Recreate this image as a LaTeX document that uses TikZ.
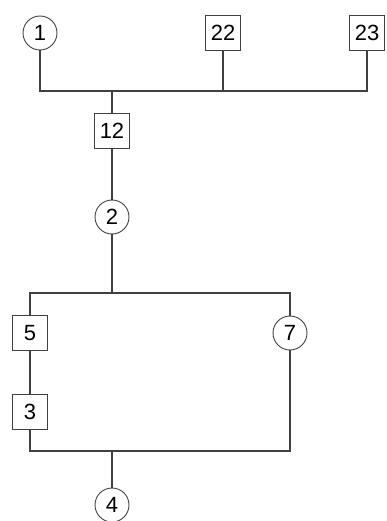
\documentclass[tikz,border=0pt]{standalone}
\usepackage{fontspec}
\setmainfont{Liberation Sans}
\usetikzlibrary{positioning}

\tikzset{
  part/.style={rectangle, draw=black!75, line width=0.9pt, minimum size=35pt, inner sep=1pt, font=\fontsize{22}{24}\selectfont},
  ring/.style={circle, draw=black!75, line width=0.9pt, minimum size=34pt, inner sep=1pt, font=\fontsize{22}{24}\selectfont},
  wire/.style={draw=black!75, line width=1.1pt}
}

\begin{document}
\begin{tikzpicture}[x=1pt, y=-1pt]
\useasboundingbox (0,0) rectangle (386,521);
\node [ring] (c1) at (40, 33) {1};
\node [part] (b22) at (223, 33) {22};
\node [part] (b23) at (367, 33) {23};
\node [part] (b12) at (112, 131) {12};
\node [ring] (c2) at (112, 217) {2};
\node [part] (b5) at (30, 333) {5};
\node [part] (b3) at (30, 412) {3};
\node [ring] (c7) at (290, 333) {7};
\node [ring] (c4) at (112, 505) {4};
\coordinate (T) at (112, 91);
\coordinate (R) at (112, 293);
\coordinate (S) at (112, 451);
\draw [wire] (c1) |- (T) -| (b23);
\draw [wire] (b22) -- (b22 |- T);
\draw [wire] (T) -- (b12);
\draw [wire] (b12) -- (c2);
\draw [wire] (c2) -- (R);
\draw [wire] (b5) |- (R) -| (c7);
\draw [wire] (b3) |- (S) -| (c7);
\draw [wire] (b5) -- (b3);
\draw [wire] (S) -- (c4);
\end{tikzpicture}
\end{document}
